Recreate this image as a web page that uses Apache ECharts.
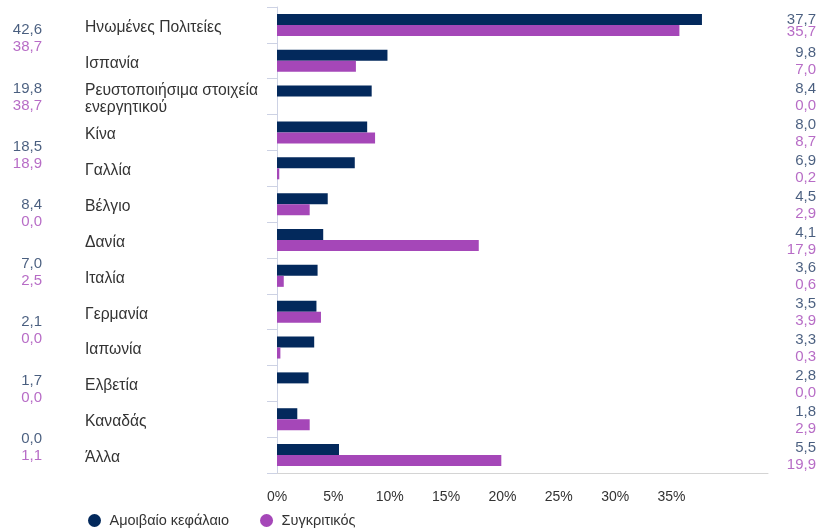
<!DOCTYPE html>
<html><head><meta charset="utf-8">
<script src="https://cdn.jsdelivr.net/npm/echarts@6/dist/echarts.min.js"></script>
<style>html,body{margin:0;padding:0;background:#fff}#c{width:827px;height:532px}</style>
</head><body><div id="c"></div>
<script>
const categories = ['Ηνωμένες Πολιτείες','Ισπανία','Ρευστοποιήσιμα στοιχεία\nενεργητικού','Κίνα','Γαλλία','Βέλγιο','Δανία','Ιταλία','Γερμανία','Ιαπωνία','Ελβετία','Καναδάς','Άλλα'];
const fundValues = [37.7,9.8,8.4,8.0,6.9,4.5,4.1,3.6,3.5,3.3,2.8,1.8,5.5];
const benchValues = [35.7,7.0,0.0,8.7,0.2,2.9,17.9,0.6,3.9,0.3,0.0,2.9,19.9];
const leftFund = [42.6,19.8,18.5,8.4,7.0,2.1,1.7,0.0];
const leftBench = [38.7,38.7,18.9,0.0,2.5,0.0,0.0,1.1];
const seriesNames = ['Αμοιβαίο κεφάλαιο','Συγκριτικός'];
const xTicks = [0,5,10,15,20,25,30,35];

const NAVY = '#03295c', PURPLE = '#a547b8', NAVY_TXT = '#1b365f';
const FONT = 'Liberation Sans, Arial, sans-serif';
const fmt = v => v.toFixed(1).replace('.', ',');
const richPair = lh => ({
  a: {fontSize: 15, color: NAVY_TXT, align: 'right', lineHeight: lh, fontFamily: FONT},
  b: {fontSize: 15, color: PURPLE, align: 'right', lineHeight: lh, fontFamily: FONT},
  c: {fontSize: 15, color: NAVY_TXT, align: 'right', lineHeight: 12, fontFamily: FONT},
  d: {fontSize: 15, color: PURPLE, align: 'right', lineHeight: 12, fontFamily: FONT}
});

const chart = echarts.init(document.getElementById('c'));
chart.setOption({
  animation: false,
  textStyle: {fontFamily: FONT},
  legend: {
    data: seriesNames, left: 83, top: 508, icon: 'circle', itemWidth: 20, itemHeight: 13, itemGap: 31,
    textStyle: {fontSize: 14.5, color: '#333', fontFamily: FONT}
  },
  grid: [
    {left: 277, right: 59, top: 7, bottom: 59},
    {left: 770, right: 11, top: 7, bottom: 59},
    {left: 0, width: 42, top: 9.5, bottom: 55.5},
    {left: 277, right: 59, top: 9.5, bottom: 56.5}
  ],
  xAxis: [
    {gridIndex: 0, type: 'value', min: 0, max: 43.56, interval: 5,
      axisLine: {show: true, lineStyle: {color: '#d4d4d4'}}, axisTick: {show: false}, splitLine: {show: false},
      axisLabel: {margin: 17, fontSize: 14, color: '#333', showMaxLabel: false,
        formatter: v => xTicks.includes(v) ? v + '%' : ''}},
    {gridIndex: 1, type: 'value', min: 0, max: 1, show: false},
    {gridIndex: 2, type: 'value', min: 0, max: 1, show: false},
    {gridIndex: 3, type: 'value', min: 0, max: 1, show: false}
  ],
  yAxis: [
    {gridIndex: 0, type: 'category', data: categories, inverse: true,
      axisLine: {show: true, lineStyle: {color: '#cdd2e4'}},
      axisTick: {show: true, length: 10, lineStyle: {color: '#cdd2e4'}},
      axisLabel: {show: false}},
    {gridIndex: 1, type: 'category', data: categories, inverse: true, show: false},
    {gridIndex: 2, type: 'category', data: leftFund.map((_, i) => 'r' + i), inverse: true, show: false},
    {gridIndex: 3, type: 'category', data: categories, inverse: true,
      axisLine: {show: false}, axisTick: {show: false}, splitLine: {show: false},
      axisLabel: {align: 'left', margin: 192, fontSize: 15.7, color: '#333', lineHeight: 17}}
  ],
  series: [
    {name: seriesNames[0], type: 'bar', data: fundValues, barWidth: 11, barGap: '0%',
      itemStyle: {color: NAVY}, xAxisIndex: 0, yAxisIndex: 0},
    {name: seriesNames[1], type: 'bar', data: benchValues, barWidth: 11, barGap: '0%',
      itemStyle: {color: PURPLE}, xAxisIndex: 0, yAxisIndex: 0},
    {type: 'scatter', xAxisIndex: 1, yAxisIndex: 1, symbolSize: 0, silent: true,
      data: categories.map((c, i) => [1, i]),
      label: {show: true, position: 'left', distance: 0, offset: [0, 1],
        formatter: p => p.dataIndex === 0
          ? '{c|' + fmt(fundValues[0]) + '}\n{d|' + fmt(benchValues[0]) + '}'
          : '{a|' + fmt(fundValues[p.dataIndex]) + '}\n{b|' + fmt(benchValues[p.dataIndex]) + '}',
        rich: richPair(17)}},
    {type: 'scatter', xAxisIndex: 2, yAxisIndex: 2, symbolSize: 0, silent: true,
      data: leftFund.map((v, i) => [1, i]),
      label: {show: true, position: 'left', distance: 0,
        formatter: p => '{a|' + fmt(leftFund[p.dataIndex]) + '}\n{b|' + fmt(leftBench[p.dataIndex]) + '}',
        rich: richPair(17)}}
  ]
});
</script></body></html>
